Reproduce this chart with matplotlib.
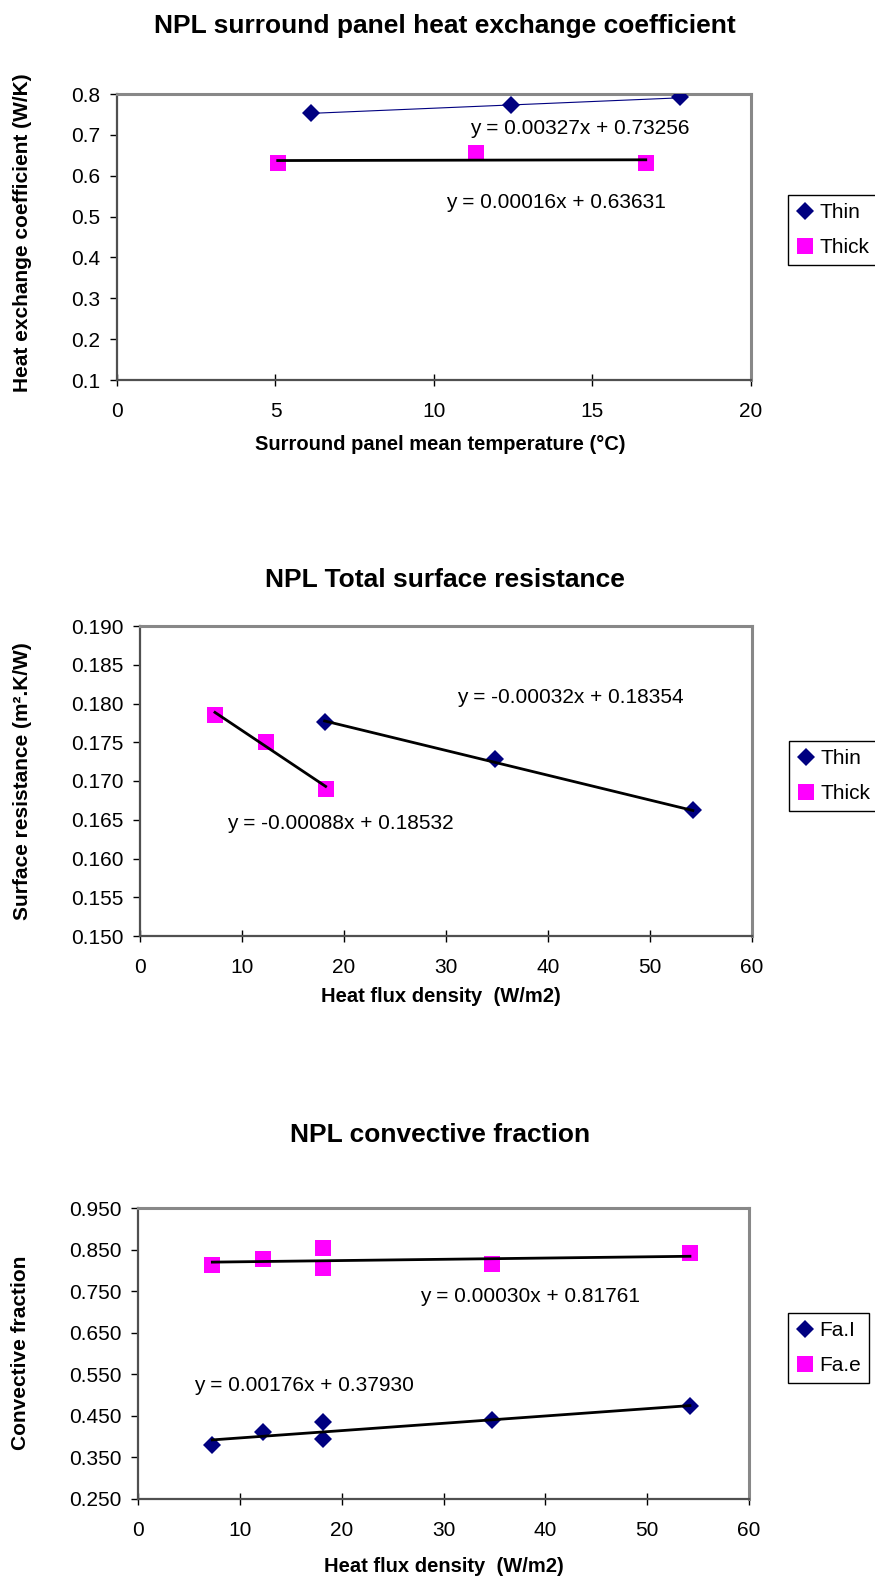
import numpy as np
import matplotlib
matplotlib.use("Agg")
import matplotlib.pyplot as plt
from matplotlib.ticker import FormatStrFormatter

plt.rcParams["font.family"] = ["Liberation Sans", "DejaVu Sans"]

# ----------- Data -----------

# Chart 1: surround panel heat exchange coefficient
temp_thin = [6.12, 12.43, 17.77]
coef_thin = [0.754, 0.773, 0.792]
temp_thick = [5.07, 11.33, 16.68]
coef_thick = [0.630, 0.656, 0.630]
trend1_thin = (0.00327, 0.73256)
trend1_thick = (0.00016, 0.63631)
xticks1 = [0, 5, 10, 15, 20]
yticks1 = [0.1, 0.2, 0.3, 0.4, 0.5, 0.6, 0.7, 0.8]

# Chart 2: total surface resistance
flux_thin = [18.1, 34.8, 54.2]
res_thin = [0.1776, 0.1728, 0.1662]
flux_thick = [7.35, 12.35, 18.2]
res_thick = [0.1785, 0.1750, 0.1690]
trend2_thin = (-0.00032, 0.18354)
trend2_thick = (-0.00088, 0.18532)
xticks2 = [0, 10, 20, 30, 40, 50, 60]
yticks2 = [0.150, 0.155, 0.160, 0.165, 0.170, 0.175, 0.180, 0.185, 0.190]

# Chart 3: convective fraction
flux_conv = [7.3, 12.3, 18.2, 18.2, 34.8, 54.2]
fa_i = [0.380, 0.410, 0.436, 0.394, 0.440, 0.474]
fa_e = [0.813, 0.827, 0.853, 0.805, 0.815, 0.841]
trend3_i = (0.00176, 0.37930)
trend3_e = (0.00030, 0.81761)
xticks3 = [0, 10, 20, 30, 40, 50, 60]
yticks3 = [0.250, 0.350, 0.450, 0.550, 0.650, 0.750, 0.850, 0.950]

NAVY = "#000080"
MAGENTA = "#FF00FF"

W, H = 875, 1583
fig = plt.figure(figsize=(W / 100, H / 100), dpi=100)


def px_axes(l, t, r, b):
    # place an axes box using pixel edges (top-left origin)
    return fig.add_axes([l / W, 1 - b / H, (r - l) / W, (b - t) / H])


def px_text(x, y, s, **kw):
    fig.text(x / W, 1 - y / H, s, ha="center", va="center", **kw)


def trend(ax, xs, coef, color="black", lw=2.0):
    # trend line from the smallest to the largest x value
    x = np.array([min(xs), max(xs)])
    ax.plot(x, coef[0] * x + coef[1], color=color, lw=lw, zorder=4)


def style(ax, xt, yt, fmt):
    ax.set_xlim(xt[0], xt[-1])
    ax.set_ylim(yt[0], yt[-1])
    ax.set_xticks(xt)
    ax.set_yticks(yt)
    ax.yaxis.set_major_formatter(FormatStrFormatter(fmt))
    for side in ["top", "right"]:
        ax.spines[side].set_color("#888888")
        ax.spines[side].set_linewidth(2.2)
    for side in ["left", "bottom"]:
        ax.spines[side].set_color("#505050")
        ax.spines[side].set_linewidth(1.6)
    ax.tick_params(axis="y", direction="out", length=5, width=1, pad=7,
                   labelsize=15)
    ax.tick_params(axis="x", direction="inout", length=9, width=1, pad=11,
                   labelsize=15)


def legend(ax, x, y):
    fig.legend(*ax.get_legend_handles_labels(), loc="upper left",
               bbox_to_anchor=(x / W, 1 - y / H), borderaxespad=0,
               fontsize=15, frameon=True, fancybox=False, edgecolor="black",
               framealpha=1, handlelength=0.8, handletextpad=0.3,
               labelspacing=0.75, borderpad=0.4)


def points(ax, x, y1, y2, lab1, lab2):
    ax.plot(x[0], y1, "D", color=NAVY, ms=9, mew=0, label=lab1, zorder=3)
    ax.plot(x[1], y2, "s", color=MAGENTA, ms=11.5, mew=0, label=lab2,
            zorder=3)


# ----------- Chart 1 -----------
ax1 = px_axes(117, 94, 751, 380)
points(ax1, (temp_thin, temp_thick), coef_thin, coef_thick, "Thin", "Thick")
trend(ax1, temp_thin, trend1_thin, color=NAVY, lw=0.8)
trend(ax1, temp_thick, trend1_thick, lw=2.0)
style(ax1, xticks1, yticks1, "%.1f")
ax1.text(14.6, 0.716, "y = 0.00327x + 0.73256", fontsize=15,
         ha="center", va="center")
ax1.text(13.85, 0.534, "y = 0.00016x + 0.63631", fontsize=15,
         ha="center", va="center")
legend(ax1, 788, 195)
px_text(445, 26, "NPL surround panel heat exchange coefficient",
        fontsize=19, fontweight="bold")
px_text(440, 445, "Surround panel mean temperature (°C)",
        fontsize=14.5, fontweight="bold")
px_text(23, 233, "Heat exchange coefficient (W/K)", fontsize=15,
        fontweight="bold", rotation=90)

# ----------- Chart 2 -----------
ax2 = px_axes(140, 626, 752, 936)
points(ax2, (flux_thin, flux_thick), res_thin, res_thick, "Thin", "Thick")
trend(ax2, flux_thin, trend2_thin)
trend(ax2, flux_thick, trend2_thick)
style(ax2, xticks2, yticks2, "%.3f")
ax2.text(42.2, 0.1808, "y = -0.00032x + 0.18354", fontsize=15,
         ha="center", va="center")
ax2.text(19.6, 0.1645, "y = -0.00088x + 0.18532", fontsize=15,
         ha="center", va="center")
legend(ax2, 789, 741)
px_text(445, 580, "NPL Total surface resistance", fontsize=19,
        fontweight="bold")
px_text(441, 997, "Heat flux density  (W/m2)", fontsize=14.5,
        fontweight="bold")
px_text(23, 781, "Surface resistance (m².K/W)", fontsize=15,
        fontweight="bold", rotation=90)

# ----------- Chart 3 -----------
ax3 = px_axes(138, 1208, 749, 1499)
points(ax3, (flux_conv, flux_conv), fa_i, fa_e, "Fa.I", "Fa.e")
trend(ax3, flux_conv, trend3_i)
trend(ax3, flux_conv, trend3_e)
style(ax3, xticks3, yticks3, "%.3f")
ax3.text(38.5, 0.738, "y = 0.00030x + 0.81761", fontsize=15,
         ha="center", va="center")
ax3.text(16.3, 0.524, "y = 0.00176x + 0.37930", fontsize=15,
         ha="center", va="center")
legend(ax3, 788, 1313)
px_text(440, 1135, "NPL convective fraction", fontsize=19,
        fontweight="bold")
px_text(444, 1567, "Heat flux density  (W/m2)", fontsize=14.5,
        fontweight="bold")
px_text(21, 1353, "Convective fraction", fontsize=15,
        fontweight="bold", rotation=90)

fig.savefig("out.png", dpi=100)
